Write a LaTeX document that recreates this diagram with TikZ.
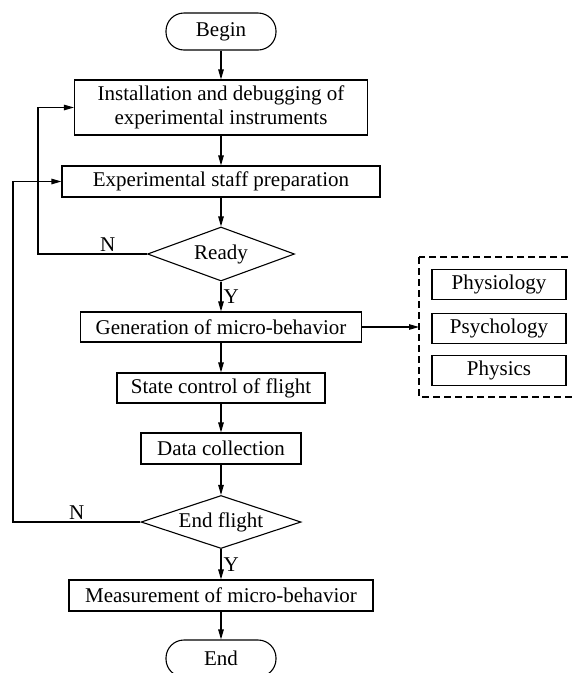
\documentclass[tikz,border=0pt]{standalone}
\usepackage{fontspec}
\setmainfont{Liberation Serif}
\usetikzlibrary{arrows.meta,positioning,shapes.geometric}

\begin{document}
\begin{tikzpicture}[
    x=1pt, y=-1pt,
    font=\fontsize{21}{24}\selectfont,
    proc/.style={draw, line width=1.1pt, minimum height=31pt, align=center,
                 inner sep=2pt},
    term/.style={draw, line width=1.1pt, rounded corners=18pt,
                 minimum width=110pt, minimum height=37pt},
    decide/.style={draw, diamond, line width=1.1pt, aspect=2.7, inner sep=1pt,
                   minimum width=147pt, minimum height=54pt},
    sub/.style={draw, line width=1.1pt, minimum width=134pt, minimum height=30pt},
    group/.style={draw, line width=1.1pt, dash pattern=on 7pt off 4pt},
    arrow/.style={-{Triangle[length=10pt,width=5.5pt]}, line width=1.1pt}
]
\useasboundingbox (0,0) rectangle (572,673);
% main flow
\node[term] (begin) at (221,31.5) {Begin};
\node[proc, minimum width=293pt, minimum height=55pt] (inst) at (221,107.5)
    {Installation and debugging of\\experimental instruments};
\node[proc, minimum width=318pt] (staff) at (221,181.5) {Experimental staff preparation};
\node[decide] (ready) at (221,254) {Ready};
\node[proc, minimum width=281pt, minimum height=30pt] (gen) at (221,327)
    {Generation of micro-behavior};
\node[proc, minimum width=208pt, minimum height=30pt] (state) at (221,388)
    {State control of flight};
\node[proc, minimum width=160pt] (collect) at (221,448.5) {Data collection};
\node[decide, minimum width=160pt, minimum height=53pt, aspect=3] (endf) at (221,522)
    {End flight};
\node[proc, minimum width=304pt] (meas) at (221,595.5) {Measurement of micro-behavior};
\node[term] (end) at (221,658.5) {End};
% factors
\node[sub] (physio) at (499,284.5) {Physiology};
\node[sub, below=13pt of physio] (psycho) {Psychology};
\node[sub, below=11pt of psycho] (phys) {Physics};
\draw[group] (419,257) rectangle (590,397);
\coordinate (grpin) at (419,327);
\coordinate (loopA) at (38,254);
\coordinate (loopB) at (13,522);

\draw[arrow] (begin) -- (inst);
\draw[arrow] (inst) -- (staff);
\draw[arrow] (staff) -- (ready);
\draw[arrow] (ready) -- node[right, pos=0.5, inner sep=2pt] (yA) {Y} (gen);
\draw[arrow] (gen) -- (state);
\draw[arrow] (state) -- (collect);
\draw[arrow] (collect) -- (endf);
\draw[arrow] (endf) -- node[right, pos=0.5, inner sep=2pt] (yB) {Y} (meas);
\draw[arrow] (meas) -- (end);
\draw[arrow] (gen.east) -- (grpin);
\draw[arrow] (ready.west) -- node[above, pos=0.36, inner sep=2pt] (nA) {N} (loopA)
    |- (inst.west);
\draw[arrow] (endf.west) -- node[above, pos=0.5, inner sep=2pt] (nB) {N} (loopB)
    |- (staff.west);
\end{tikzpicture}
\end{document}
